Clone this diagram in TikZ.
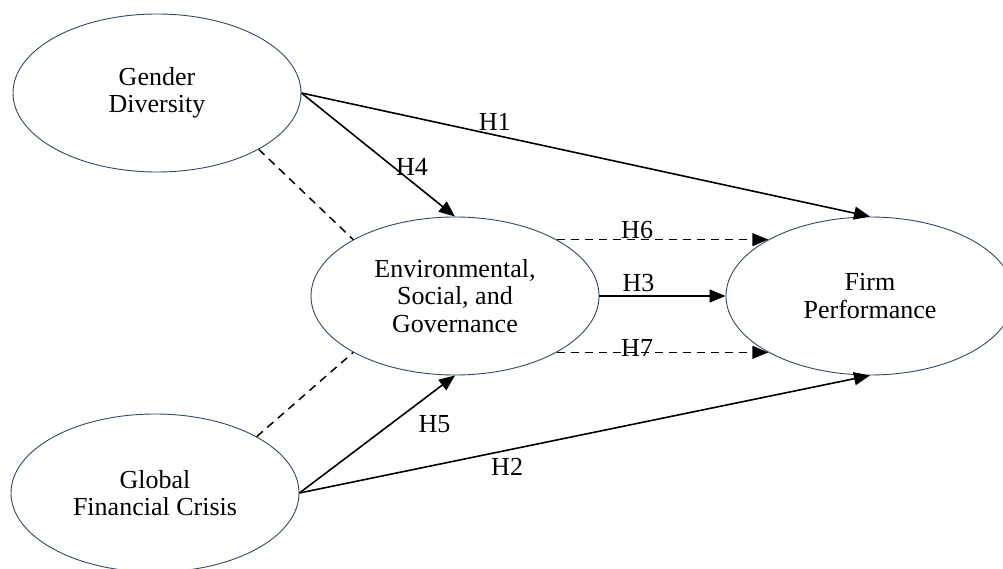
\documentclass[tikz,border=0pt]{standalone}
\usepackage{fontspec}
\setmainfont{Liberation Serif}
\usetikzlibrary{arrows.meta,positioning,shapes.geometric}
\definecolor{latentblue}{RGB}{47,72,105}

\begin{document}
\begin{tikzpicture}[x=1pt,y=-1pt,>={Triangle[length=16pt,width=13pt]},every node/.append style={align=center,font=\fontsize{26}{27.5}\selectfont},lat/.style={draw=latentblue, line width=0.9pt, ellipse, minimum width=288pt, minimum height=158pt, inner sep=0pt},hyp/.style={line width=1.6pt},cov/.style={line width=1.5pt, dash pattern=on 8pt off 6pt}]
                \useasboundingbox (0,0) rectangle (1003,569);
                \node [lat] (GD)  at (157,93)  {Gender\\Diversity};
                \node [lat] (GFC) at (155,493) {Global\\Financial Crisis};
                \node [lat] (ESG) at (455,296) {Environmental,\\Social, and\\Governance};
                \node [lat] (FP)  at (870,296) {Firm\\Performance};
                \path[->] (GD.east) edge[hyp] node[pos=.34, above] {H1} (FP.north)
                (GD.east) edge[hyp] node[pos=.72, above=2pt] {H4} (ESG.north)
                (GFC.east) edge[hyp] node[pos=.364, below=4pt] {H2} (FP.south)
                (GFC.east) edge[hyp] node[pos=.74, below right=5pt and 0pt] {H5} (ESG.south)
                (ESG.east) edge[hyp] node[pos=.31, above] {H3} (FP.west)
                (ESG.29) edge[cov] node[pos=.38, above, inner sep=0pt] {H6} (FP.151)
                (ESG.-29) edge[cov] node[pos=.38, yshift=4pt] {H7} (FP.-151);
                \path (GD.-29) edge[cov] (ESG.151)
                (GFC.29) edge[cov] (ESG.209);
            \end{tikzpicture}
\end{document}
